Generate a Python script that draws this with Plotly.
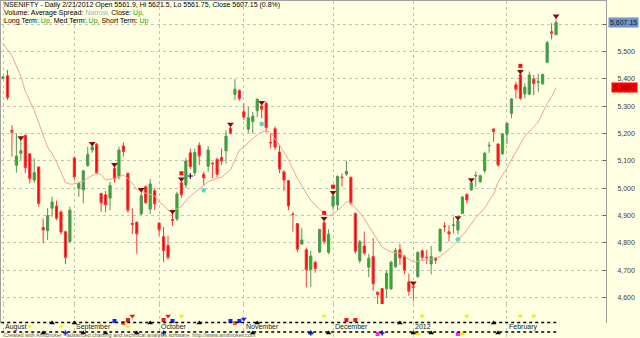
import plotly.graph_objects as go

# ---------------- data ----------------
open_ = [5403, 5412, 5212, 5084, 5128, 5194, 5126, 5030, 5078, 4857,
         4845, 4927, 4935, 4913, 4841, 4805, 5111, 5000, 4994, 5083,
         5140, 5161, 4981, 4976, 4964, 5073, 5042, 5155, 5055, 4872,
         4876, 4906, 5006, 4924, 4991, 4873, 4823, 4791, 4886, 4888,
         5020, 5012, 5130, 5057, 5157, 5051, 5081, 5092, 5106, 5113,
         5137, 5220, 5344, 5358, 5280, 5216, 5244, 5284, 5301, 5311,
         5168, 5218, 5133, 5060, 5028, 4906, 4871, 4796, 4775, 4702,
         4729, 4767, 4874, 4766, 4935, 4939, 5041, 5052, 5039, 4908,
         4735, 4789, 4711, 4750, 4620, 4633, 4632, 4632, 4713, 4775,
         4752, 4658, 4640, 4677, 4771, 4748, 4723, 4745, 4771, 4862,
         4841, 4864, 4847, 4908, 4977, 4994, 5045, 5024, 5064, 5155,
         5217, 5162, 5126, 5198, 5274, 5379, 5416, 5345, 5344, 5400,
         5388, 5382, 5461, 5573, 5561.9]
high = [5412, 5433, 5231, 5201, 5176, 5196, 5128, 5110, 5080, 4890,
        4927, 4969, 4955, 4920, 4845, 4933, 5116, 5024, 5067, 5152,
        5155, 5166, 4984, 4990, 5024, 5078, 5152, 5167, 5057, 4927,
        4878, 4987, 5010, 5034, 5000, 4875, 4859, 4826, 4906, 4987,
        5025, 5110, 5145, 5145, 5168, 5061, 5155, 5097, 5113, 5146,
        5213, 5225, 5399, 5362, 5311, 5298, 5280, 5329, 5305, 5318,
        5201, 5226, 5158, 5067, 5030, 4914, 4871, 4854, 4783, 4771,
        4734, 4852, 4880, 4850, 4976, 5048, 5055, 5100, 5044, 4911,
        4811, 4842, 4760, 4818, 4622, 4633, 4699, 4735, 4782, 4797,
        4755, 4687, 4644, 4770, 4777, 4774, 4789, 4747, 4854, 4876,
        4865, 4895, 4883, 4972, 4982, 5022, 5061, 5050, 5134, 5170,
        5219, 5165, 5202, 5240, 5329, 5390, 5418, 5384, 5427, 5414,
        5418, 5420, 5540, 5604, 5621.5]
low = [5398, 5323, 5116, 5057, 5104, 5055, 5018, 5020, 4933, 4799,
       4811, 4896, 4883, 4831, 4722, 4799, 5030, 4969, 4945, 5079,
       5130, 5052, 4914, 4914, 4920, 5020, 5032, 5116, 4911, 4833,
       4760, 4902, 4943, 4906, 4920, 4826, 4729, 4738, 4861, 4880,
       4965, 5000, 5070, 5045, 5085, 5012, 5060, 5036, 5040, 5085,
       5091, 5197, 5323, 5320, 5250, 5203, 5201, 5260, 5256, 5204,
       5146, 5140, 5055, 4991, 4920, 4841, 4766, 4793, 4637, 4639,
       4691, 4763, 4795, 4759, 4920, 4920, 5006, 5045, 4938, 4760,
       4726, 4755, 4675, 4626, 4567, 4528, 4599, 4628, 4709, 4720,
       4685, 4607, 4589, 4672, 4737, 4723, 4685, 4723, 4767, 4841,
       4805, 4835, 4833, 4906, 4944, 4990, 5006, 5020, 5055, 5130,
       5170, 5079, 5122, 5162, 5256, 5329, 5323, 5329, 5341, 5341,
       5353, 5380, 5457, 5545, 5561.75]
close = [5407, 5331, 5205, 5118, 5137, 5075, 5036, 5057, 4944, 4847,
         4900, 4950, 4890, 4840, 4747, 4920, 5042, 5018, 5064, 5124,
         5152, 5057, 4947, 4939, 5010, 5034, 5140, 5134, 4920, 4868,
         4833, 4973, 4947, 5016, 4943, 4848, 4772, 4747, 4882, 4979,
         4976, 5100, 5079, 5131, 5118, 5038, 5140, 5090, 5051, 5100,
         5191, 5201, 5362, 5328, 5260, 5258, 5264, 5326, 5289, 5222,
         5166, 5150, 5070, 5030, 4935, 4904, 4777, 4811, 4702, 4752,
         4706, 4849, 4805, 4832, 4972, 5043, 5039, 5062, 4945, 4770,
         4804, 4763, 4744, 4650, 4611, 4538, 4689, 4729, 4773, 4745,
         4700, 4623, 4638, 4765, 4747, 4746, 4750, 4737, 4850, 4860,
         4833, 4866, 4881, 4968, 4957, 5020, 5047, 5046, 5128, 5157,
         5207, 5085, 5199, 5238, 5327, 5362, 5329, 5370, 5414, 5383,
         5390, 5416, 5533, 5567, 5607.15]
bars = list(range(len(close)))

# moving average line (bar index, value)
ma_bar = [0, 2, 4, 5, 7, 8, 9, 10, 11, 12, 14, 15, 16, 18, 19, 20, 21, 22, 23,
          25, 26, 27, 28, 29, 30, 32, 34, 35, 36, 37, 38, 40, 41, 43, 45, 46,
          48, 49, 51, 52, 53, 54, 55, 57, 58, 59, 60, 62, 64, 66, 67, 69, 71,
          72, 73, 74, 75, 76, 77, 78, 80, 81, 82, 85, 87, 89, 91, 92, 94, 96,
          98, 100, 102, 104, 106, 108, 109, 110, 111, 113, 115, 117, 120, 121,
          122, 123, 124]
ma_val = [5530, 5485, 5410, 5355, 5285, 5240, 5189, 5150, 5128, 5095, 5022,
          5015, 5016, 5026, 5038, 5046, 5055, 5050, 5030, 5036, 5043, 5049,
          5035, 5018, 4996, 4982, 4972, 4950, 4938, 4920, 4914, 4934, 4955,
          4985, 5010, 5024, 5036, 5041, 5068, 5105, 5140, 5152, 5166, 5196,
          5206, 5211, 5203, 5158, 5105, 5036, 5010, 4955, 4924, 4906, 4900,
          4905, 4920, 4933, 4951, 4947, 4910, 4890, 4862, 4784, 4767, 4762,
          4740, 4730, 4736, 4740, 4750, 4776, 4808, 4847, 4893, 4927, 4955,
          4978, 5022, 5074, 5134, 5190, 5242, 5274, 5310, 5335, 5368.5]

month_bar = [0, 16, 35, 54, 74, 92, 113]
month_labels = ["August", "September", "October", "November", "December",
                "2012", "February"]

price_ticks = [4600, 4700, 4800, 4900, 5000, 5100, 5200, 5300, 5400, 5500, 5600]
price_text = ["4,600", "4,700", "4,800", "4,900", "5,000", "5,100", "5,200",
              "5,300", "5,400", "5,500", ""]

last_close = 5607.15
ma_last = 5368.5

# signal markers on the price chart (bar indices)
sell_tri_bars = [4, 20, 25, 31, 38, 40, 51, 58, 72, 74, 92, 102, 105, 116, 124]
red_sq_bars = [40, 72, 74, 116]
star_bars = [45, 58, 84, 92, 102]
plus_bars = [42]

# event strip markers at the bottom (bar indices)
strip_top_black = [11, 16, 33, 44, 57, 89, 110]
strip_top_blue_sq = [25, 38, 51, 53]
strip_top_red_sq = [28, 36, 77, 79]
strip_top_orange = [27, 52]
strip_top_red_tri = [29, 37]
strip_top_blue_tri = [54]
strip_yellow_tri = [40, 72, 94, 104, 116, 119]
strip_yellow_dot = [6, 13, 28]
strip_bot_black = [9, 18, 23, 30, 56, 69, 73, 92, 96, 111]
strip_bot_blue = [14, 36, 69, 85]
strip_bot_magenta = [84, 102]
strip_bot_yellow = [93, 103]

# ---------------- figure ----------------
FONT = "Liberation Sans, Arial, sans-serif"
BG = "#FFFFE1"
GRID = "#C4C4B4"

W, H = 640, 338
ML, MR, MT, MB = 1, 34, 1, 0
plot_h = H - MT - MB
AXIS_PX = 322            # pixel row of the price-axis bottom
STRIP_PX = 34            # height of the event-strip sub-axis (pixels)


def paper_y(px):
    return (H - MB - px) / plot_h


price_dom = [paper_y(AXIS_PX), 1]
strip_dom = [0, STRIP_PX / plot_h]


def strip_y(px):
    # strip axis value measured in pixels up from the bottom of the page
    return H - px


fig = go.Figure()

fig.add_trace(go.Scatter(
    x=ma_bar, y=ma_val, mode="lines",
    line=dict(color="#F4A092", width=1), hoverinfo="skip"))

fig.add_trace(go.Candlestick(
    x=bars, open=open_, high=high, low=low, close=close,
    increasing=dict(fillcolor="#1EB41E", line=dict(color="#5A925A", width=1)),
    decreasing=dict(fillcolor="#FF0000", line=dict(color="#F23A3A", width=1)),
    whiskerwidth=0, showlegend=False))

fig.add_trace(go.Scatter(
    x=sell_tri_bars, y=[high[i] + 9 for i in sell_tri_bars], mode="markers",
    marker=dict(symbol="triangle-down", size=6, color="#8B0A0A"),
    hoverinfo="skip"))
fig.add_trace(go.Scatter(
    x=red_sq_bars, y=[high[i] + 30 for i in red_sq_bars], mode="markers",
    marker=dict(symbol="square", size=4, color="#FF1010"), hoverinfo="skip"))
fig.add_trace(go.Scatter(
    x=star_bars, y=[low[i] - 20 for i in star_bars], mode="markers",
    marker=dict(symbol="asterisk", size=4, color="#40E0D0",
                line=dict(color="#40E0D0", width=1.2)), hoverinfo="skip"))
fig.add_trace(go.Scatter(
    x=plus_bars, y=[low[i] - 25 for i in plus_bars], mode="markers",
    marker=dict(symbol="cross-thin", size=4, color="#400040",
                line=dict(color="#400040", width=1.2)), hoverinfo="skip"))

# bottom event strip on its own small y axis
strip_specs = [
    (strip_top_black, 323, "triangle-up", "#000000", 5),
    (strip_top_blue_sq, 321, "square", "#1020FF", 4),
    (strip_top_red_sq, 320, "square", "#FF1010", 4),
    (strip_top_orange, 323, "square", "#FF6020", 4),
    (strip_top_red_tri, 316, "triangle-down", "#FF1010", 5),
    (strip_top_blue_tri, 319, "triangle-down", "#1020FF", 5),
    (strip_yellow_tri, 316, "triangle-down", "#F0F000", 5),
    (strip_yellow_dot, 326.5, "cross", "#F0F000", 3),
    (strip_bot_black, 333, "triangle-up", "#000000", 5),
    (strip_bot_blue, 333, "cross", "#1020FF", 4),
    (strip_bot_magenta, 334, "square", "#FF20FF", 4),
    (strip_bot_yellow, 334, "triangle-up", "#E8E800", 5),
]
for xs, row_px, sym, col, sz in strip_specs:
    fig.add_trace(go.Scatter(
        x=xs, y=[strip_y(row_px)] * len(xs), mode="markers", cliponaxis=False,
        xaxis="x", yaxis="y2",
        marker=dict(symbol=sym, size=sz, color=col), hoverinfo="skip"))

# dotted black strip lines
for py in (322.5, 332):
    fig.add_shape(type="line", xref="x", yref="paper",
                  x0=-0.4, x1=len(close) - 0.6, y0=paper_y(py), y1=paper_y(py),
                  line=dict(color="#000000", width=1.5, dash="dot"))

anns = []
green = "#1E9E1E"
title_lines = [
    "NSENIFTY - Daily 2/21/2012 Open 5561.9, Hi 5621.5, Lo 5561.75, "
    "Close 5607.15 (0.8%)",
    "Volume: Average Spread: <span style='color:#9FB4C8'>Narrow,</span> "
    f"Close: <span style='color:{green}'>Up,</span>",
    f"Long Term: <span style='color:{green}'>Up,</span> Med Term: "
    f"<span style='color:{green}'>Up,</span> Short Term: "
    f"<span style='color:{green}'>Up</span>",
]
for line, py in zip(title_lines, (5, 13.2, 20.8)):
    anns.append(dict(text=line, xref="paper", yref="paper", x=0, y=paper_y(py),
                     xanchor="left", yanchor="middle", showarrow=False,
                     xshift=1, font=dict(size=7, color="#000000", family=FONT)))

for b, lab in zip(month_bar, month_labels):
    anns.append(dict(text=lab, xref="x", yref="paper", x=b, y=paper_y(326.5),
                     xanchor="left", yanchor="middle", showarrow=False,
                     xshift=0, font=dict(size=7, color="#0E1E2E", family=FONT)))

anns.append(dict(
    text="Created with AmiBroker - advanced charting and technical analysis "
         "software. http://www.amibroker.com",
    xref="paper", yref="paper", x=0, y=paper_y(334.5), xanchor="left",
    yanchor="middle", showarrow=False, xshift=1,
    font=dict(size=5.5, color="#606060", family=FONT)))

anns.append(dict(text=f"{last_close:,.2f}", xref="paper", yref="y", x=1,
                 y=last_close, xanchor="left", yanchor="middle",
                 showarrow=False, xshift=2, bgcolor="#7194C4", borderpad=1,
                 font=dict(size=7, color="#0A1A3A", family=FONT)))
anns.append(dict(text=f"{ma_last:,.1f}", xref="paper", yref="y", x=1,
                 y=ma_last, xanchor="left", yanchor="middle",
                 showarrow=False, xshift=5, bgcolor="#FF0000", borderpad=1,
                 font=dict(size=7, color="#6A0000", family=FONT)))

fig.update_layout(
    width=W, height=H,
    margin=dict(l=ML, r=MR, t=MT, b=MB, pad=0),
    paper_bgcolor=BG, plot_bgcolor=BG,
    showlegend=False,
    font=dict(family=FONT, size=7, color="#404040"),
    annotations=anns,
    xaxis=dict(
        range=[-0.45, 135.2], tickvals=month_bar, showticklabels=False,
        ticks="", showgrid=True, gridcolor=GRID, griddash="dot",
        gridwidth=1, zeroline=False, showline=True, linecolor="#A0A0A0",
        linewidth=1, mirror=True, rangeslider=dict(visible=False),
        anchor="y", fixedrange=True),
    yaxis=dict(
        domain=price_dom, range=[4510.7, 5685.3], side="right",
        tickvals=price_ticks, ticktext=price_text, ticks="inside", ticklen=3,
        tickcolor="#606060", ticklabelstandoff=9,
        tickfont=dict(size=7, color="#404040"),
        showgrid=True, gridcolor=GRID, griddash="dot", gridwidth=1,
        zeroline=False, showline=True, linecolor="#A0A0A0", linewidth=1,
        mirror=True, fixedrange=True),
    yaxis2=dict(
        domain=strip_dom, range=[0, STRIP_PX], anchor="x",
        showgrid=False, showticklabels=False, ticks="", zeroline=False,
        showline=False, fixedrange=True),
)

fig.write_html("out.html")
